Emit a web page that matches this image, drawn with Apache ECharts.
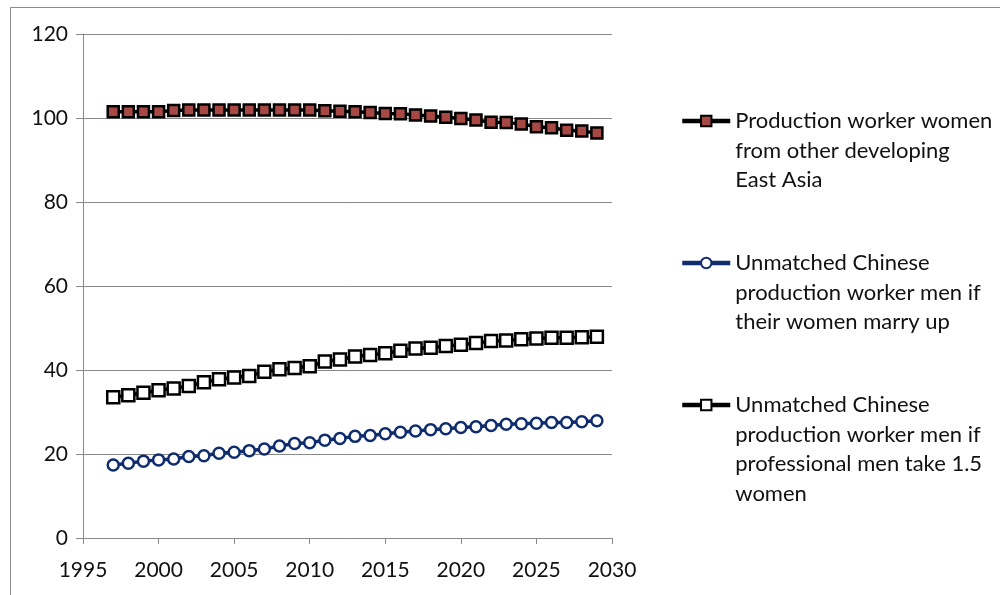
<!DOCTYPE html>
<html>
<head>
<meta charset="utf-8">
<script src="https://cdn.jsdelivr.net/npm/echarts@6/dist/echarts.min.js"></script>
<style>
  html, body { margin: 0; padding: 0; background: #fff; }
  #chart { width: 1000px; height: 595px; }
</style>
</head>
<body>
<div id="chart"></div>
<script>
// Years 1997–2029
const years = [];
for (let y = 1997; y <= 2029; y++) years.push(y);

const seriesNames = [
  'Production worker women from other developing East Asia',
  'Unmatched Chinese production worker men if their women marry up',
  'Unmatched Chinese production worker men if professional men take 1.5 women'
];

// Wrapped legend text for each series
const legendLines = [
  ['Production worker women', 'from other developing', 'East Asia'],
  ['Unmatched Chinese', 'production worker men if', 'their women marry up'],
  ['Unmatched Chinese', 'production worker men if', 'professional men take 1.5', 'women']
];

const womenEastAsia = [
  101.5, 101.5, 101.5, 101.5, 101.8, 101.9, 101.9, 101.9, 101.9, 101.9,
  101.9, 101.9, 101.9, 101.9, 101.7, 101.6, 101.5, 101.3, 101.1, 101.0,
  100.7, 100.5, 100.2, 99.9, 99.5, 99.0, 98.9, 98.6, 97.9, 97.7,
  97.1, 96.9, 96.4
];

const menMarryUp = [
  17.4, 17.8, 18.3, 18.6, 18.8, 19.4, 19.6, 20.2, 20.4, 20.8,
  21.2, 21.9, 22.5, 22.7, 23.3, 23.7, 24.2, 24.4, 24.8, 25.2,
  25.5, 25.8, 26.0, 26.3, 26.5, 26.8, 27.1, 27.2, 27.3, 27.5,
  27.5, 27.7, 27.9
];

const menProfessional = [
  33.5, 34.0, 34.6, 35.2, 35.6, 36.2, 37.1, 37.8, 38.2, 38.6,
  39.6, 40.2, 40.5, 40.9, 42.0, 42.5, 43.2, 43.6, 44.0, 44.6,
  45.1, 45.3, 45.7, 46.0, 46.4, 46.9, 47.0, 47.3, 47.5, 47.7,
  47.7, 47.8, 47.9
];

const yTicks = { min: 0, max: 120, interval: 20 };
const xTicks = { min: 1995, max: 2030, interval: 5 };

const pairs = (vals) => years.map((y, i) => [y, vals[i]]);

const FONT = 'Lato';
const LH = 29.5;
const legendIconCenters = [121, 263, 405];

// Each legend entry is its own component so the icon sits beside the first text line:
// blank lines are prepended so the first real line lands on the icon's centre.
const legends = legendLines.map((lines, i) => {
  const n = lines.length;
  return {
    data: [seriesNames[i]],
    left: 680,
    top: legendIconCenters[i] - (2 * n - 1) * LH / 2,
    padding: 0,
    itemWidth: 48,
    itemHeight: 13,
    itemGap: 0,
    selectedMode: false,
    lineStyle: { width: 4.5 },
    formatter: () => '\u00a0\n'.repeat(n - 1) + lines.join('\n'),
    textStyle: {
      fontFamily: FONT,
      fontSize: 22,
      color: '#111',
      lineHeight: LH
    }
  };
});

const chart = echarts.init(document.getElementById('chart'));
chart.setOption({
  animation: false,
  backgroundColor: '#fff',
  graphic: [{
    type: 'rect',
    shape: { x: 10.5, y: 7.5, width: 1000, height: 600 },
    style: { fill: 'none', stroke: '#8a8a8a', lineWidth: 1 },
    silent: true
  }],
  grid: { left: 83, right: 388, top: 34, bottom: 57, containLabel: false },
  legend: legends,
  xAxis: {
    type: 'value',
    min: xTicks.min, max: xTicks.max, interval: xTicks.interval,
    axisLine: { show: true, lineStyle: { color: '#888', width: 1 } },
    axisTick: { show: true, length: 6, lineStyle: { color: '#888' } },
    splitLine: { show: false },
    axisLabel: {
      fontFamily: FONT, fontSize: 21, color: '#111', margin: 22,
      formatter: (v) => String(v)
    }
  },
  yAxis: {
    type: 'value',
    min: yTicks.min, max: yTicks.max, interval: yTicks.interval,
    axisLine: { show: true, lineStyle: { color: '#888', width: 1 } },
    axisTick: { show: true, length: 7, lineStyle: { color: '#888' } },
    splitLine: { show: true, lineStyle: { color: '#888', width: 1 } },
    axisLabel: { fontFamily: FONT, fontSize: 21, color: '#111', margin: 15 }
  },
  series: [
    {
      name: seriesNames[0],
      type: 'line',
      data: pairs(womenEastAsia),
      symbol: 'rect',
      symbolSize: 11,
      itemStyle: { color: '#A84844', borderColor: '#000', borderWidth: 2.5 },
      lineStyle: { color: '#000', width: 3.5 }
    },
    {
      name: seriesNames[1],
      type: 'line',
      data: pairs(menMarryUp),
      symbol: 'circle',
      symbolSize: 11,
      itemStyle: { color: '#fff', borderColor: '#0E2C6E', borderWidth: 2.5 },
      lineStyle: { color: '#0E2C6E', width: 3.5 }
    },
    {
      name: seriesNames[2],
      type: 'line',
      data: pairs(menProfessional),
      symbol: 'rect',
      symbolSize: 12,
      itemStyle: { color: '#fff', borderColor: '#000', borderWidth: 2.5 },
      lineStyle: { color: '#000', width: 3.5 }
    }
  ]
});
</script>
</body>
</html>
